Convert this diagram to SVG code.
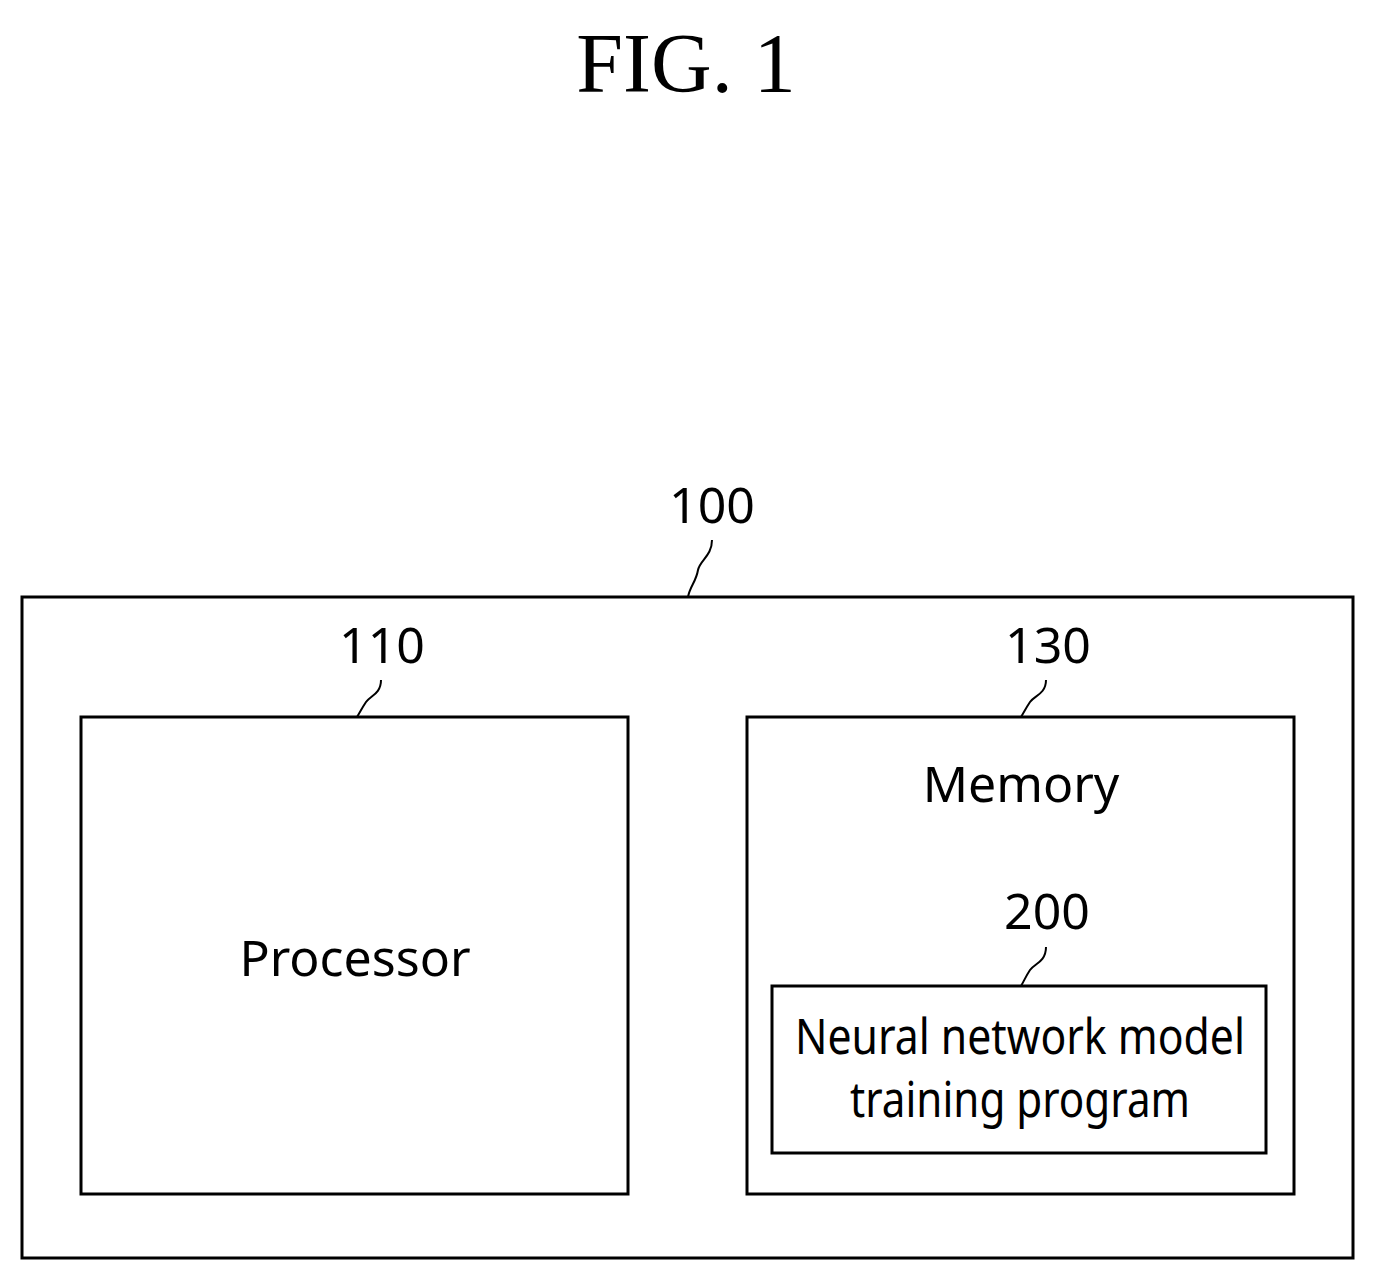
<svg xmlns="http://www.w3.org/2000/svg" width="1375" height="1282" viewBox="0 0 1375 1282">
<style>
.box{fill:none;stroke:#000;stroke-width:3}
.lead{fill:none;stroke:#000;stroke-width:2}
.t{font-family:"Noto Sans","DejaVu Sans",sans-serif;font-size:50px;text-anchor:middle;fill:#000}
</style>
<rect width="1375" height="1282" fill="#fff"/>
<text x="686" y="92" font-family="Liberation Serif,serif" font-size="84" text-anchor="middle">FIG. 1</text>
<g id="n100"><rect class="box" x="22" y="597" width="1331" height="661"/><text class="t" x="712" y="523">100</text></g>
<g id="n110"><rect class="box" x="81" y="717" width="547" height="477"/><text class="t" x="382" y="663">110</text><text class="t" x="355" y="976">Processor</text></g>
<g id="n130"><rect class="box" x="747" y="717" width="547" height="477"/><text class="t" x="1048" y="663">130</text><text class="t" x="1021" y="802">Memory</text></g>
<g id="n200"><rect class="box" x="772" y="986" width="494" height="167"/><text class="t" x="1047" y="929">200</text>
<text class="t" x="1020" y="1054" font-size="46" textLength="450" lengthAdjust="spacingAndGlyphs">Neural network model</text>
<text class="t" x="1020" y="1117" font-size="46" textLength="340" lengthAdjust="spacingAndGlyphs">training program</text></g>
<g id="connectors">
<path class="lead" d="M712 540 C712 556 700 560 698 570 C696 582 690 586 688 597"/>
<path class="lead" d="M381 680 C381 694 370 696 366 702 C362 708 360 712 357 717"/>
<path class="lead" d="M1046 680 C1046 694 1034 696 1030 702 C1026 708 1024 712 1021 717"/>
<path class="lead" d="M1046 947 C1046 962 1034 964 1030 970 C1026 976 1024 981 1021 986"/>
</g>
</svg>
